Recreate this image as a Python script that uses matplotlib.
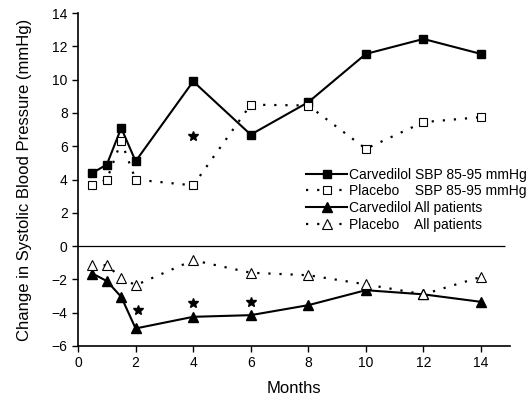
import matplotlib
matplotlib.use("Agg")
import matplotlib.pyplot as plt

months = [0.5, 1, 1.5, 2, 4, 6, 8, 10, 12, 14]
carv_sbp = [4.4, 4.9, 7.1, 5.1, 9.9, 6.7, 8.65, 11.55, 12.45, 11.55]
plac_sbp = [3.65, 4.0, 6.3, 4.0, 3.65, 8.5, 8.45, 5.85, 7.45, 7.75]
carv_all = [-1.65, -2.1, -3.05, -4.95, -4.25, -4.15, -3.55, -2.65, -2.9, -3.35]
plac_all = [-1.15, -1.15, -1.9, -2.35, -0.85, -1.6, -1.75, -2.3, -2.9, -1.85]
star_x = [4, 2.1, 4, 6]
star_y = [6.6, -3.85, -3.4, -3.35]
xticks = [0, 2, 4, 6, 8, 10, 12, 14]
yticks = [-6, -4, -2, 0, 2, 4, 6, 8, 10, 12, 14]

plt.rcParams['font.family'] = ['Liberation Sans', 'DejaVu Sans']

fig = plt.figure(figsize=(5.31, 3.99), dpi=100)
ax = fig.add_axes([0.147, 0.133, 0.813, 0.834])

dot = (0, (1, 4))
ax.plot(months, carv_sbp, '-', color='black', lw=1.5, marker='s', ms=6,
        mfc='black', label='Carvedilol SBP 85-95 mmHg', zorder=3)
ax.plot(months, plac_sbp, linestyle=dot, color='black', lw=1.6, marker='s', ms=6,
        mfc='white', mew=0.8, label='Placebo    SBP 85-95 mmHg', zorder=3)
ax.plot(months, carv_all, '-', color='black', lw=1.5, marker='^', ms=7,
        mfc='black', label='Carvedilol All patients', zorder=3)
ax.plot(months, plac_all, linestyle=dot, color='black', lw=1.6, marker='^', ms=7,
        mfc='white', mew=0.8, label='Placebo    All patients', zorder=3)

ax.plot(star_x, star_y, linestyle='none', marker='*', ms=7, color='black')

ax.hlines(0, 0, 14.85, color='black', lw=0.9)

ax.set_xlim(0, 15)
ax.set_ylim(-6, 14)
ax.set_xticks(xticks)
ax.set_yticks(yticks)
ax.tick_params(direction='out', length=4, width=1, labelsize=10)
for s in ['top', 'right']:
    ax.spines[s].set_visible(False)
ax.spines['left'].set_linewidth(1.2)
ax.spines['bottom'].set_linewidth(1.2)

ax.set_xlabel('Months', fontsize=12, labelpad=8)
ax.set_ylabel('Change in Systolic Blood Pressure (mmHg)', fontsize=12, labelpad=14)

leg = ax.legend(loc='upper left', bbox_to_anchor=(0.513, 0.557), frameon=False,
                fontsize=10, handlelength=2.9, handletextpad=0.15,
                labelspacing=0.2, borderpad=0)

fig.savefig('out.png', dpi=100)
